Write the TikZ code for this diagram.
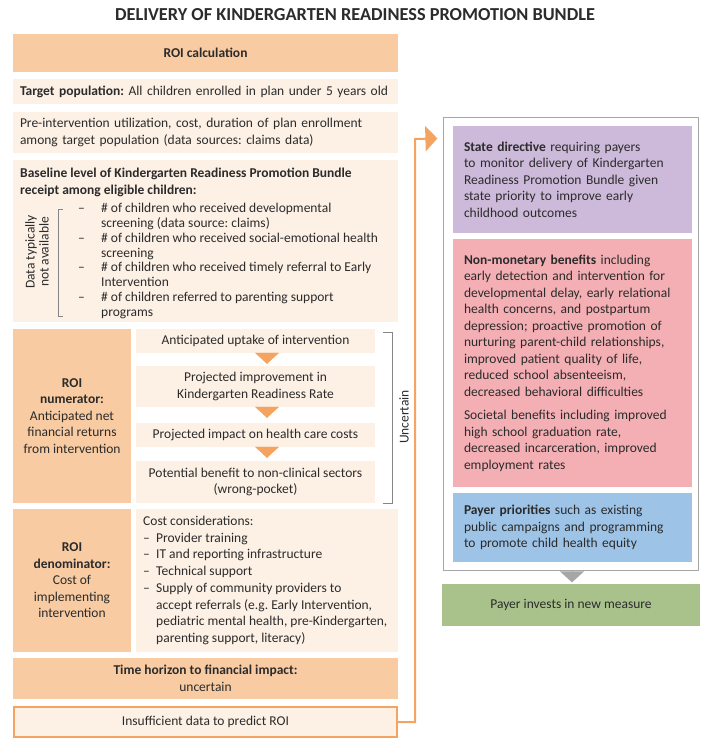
\documentclass[tikz,border=0pt]{standalone}
\usepackage{fontspec}
\setmainfont{Carlito}
\usetikzlibrary{arrows.meta,positioning}
\frenchspacing

\definecolor{peach}{HTML}{F8CBA2}
\definecolor{cream}{HTML}{FDF1E6}
\definecolor{flowor}{HTML}{F4A460}
\definecolor{lilac}{HTML}{CDBADA}
\definecolor{rose}{HTML}{F4AFB4}
\definecolor{sky}{HTML}{9DC3E6}
\definecolor{sage}{HTML}{A9C28C}
\definecolor{frame}{HTML}{A6A6A6}
\definecolor{ink}{HTML}{2B2B2B}

\newcommand{\dsh}{\makebox[13pt][l]{--}}
\newcommand{\cnt}{\hspace*{13pt}}
\newcommand{\bdsh}{\makebox[23pt][l]{--}}
\newcommand{\bcnt}{\hspace*{23pt}}

\begin{document}
\begin{tikzpicture}[x=1pt,y=-1pt,
  every node/.style={text=ink,inner sep=0pt,font=\fontsize{13.5}{16.5}\selectfont},
  hd/.style={font=\fontsize{13.5}{16.5}\selectfont\bfseries},
  dark/.style={fill=peach},
  light/.style={fill=cream},
  lbox/.style={align=left,inner xsep=7pt},
  rbox/.style={align=left,inner xsep=11pt,minimum width=239pt,text width=217pt},
  brk/.style={draw=frame!80!black,line width=0.8pt},
  tri/.style={draw=flowor,line width=0.1pt,-{Triangle[width=24pt,length=11pt]}},
  link/.style={draw=flowor,line width=2pt,-{Triangle[width=25pt,length=12pt]}}
]
\useasboundingbox (0,0) rectangle (710,745);

\node[font=\fontsize{18.3}{21}\selectfont\bfseries] (title) at (355,15) {DELIVERY OF KINDERGARTEN READINESS PROMOTION BUNDLE};

% left column
\node[dark,hd,minimum width=385,minimum height=38] (roi) at (205.5,53) {ROI calculation};
\node[light,lbox,minimum width=385,minimum height=25,text width=371] (target) at (205.5,91.5) {\textbf{Target population:} All children enrolled in plan under 5 years old};
\node[light,lbox,minimum width=385,minimum height=41,text width=371] (preint) at (205.5,132.5) {Pre-intervention utilization, cost, duration of plan enrollment\\among target population (data sources: claims data)};

\node[light,minimum width=385,minimum height=162] (baseline) at (205.5,241) {};
\node[hd,align=left,anchor=west] (basehd) at (20,182.5) {Baseline level of Kindergarten Readiness Promotion Bundle\\receipt among eligible children:};
\node[align=left,anchor=west,font=\fontsize{13.5}{14.9}\selectfont] (items) at (78,261) {\bdsh\# of children who received developmental\\\bcnt screening (data source: claims)\\\bdsh\# of children who received social-emotional health\\\bcnt screening\\\bdsh\# of children who received timely referral to Early\\\bcnt Intervention\\\bdsh\# of children referred to parenting support\\\bcnt programs};
\node[rotate=90,align=center,font=\fontsize{13.5}{14}\selectfont] (nodata) at (37,252) {Data typically\\not available};
\draw[brk] (63,209) -- (58,209) -- (58,316) -- (63,316);

\node[dark,align=center,minimum width=118,minimum height=174] (numlab) at (72,416) {\textbf{ROI}\\\textbf{numerator:}\\Anticipated net\\financial returns\\from intervention};
\node[light,minimum width=239,minimum height=24] (uptake) at (255.5,341) {Anticipated uptake of intervention};
\node[light,align=center,minimum width=239,minimum height=41] (improve) at (255.5,386.5) {Projected improvement in\\Kindergarten Readiness Rate};
\node[light,minimum width=239,minimum height=24] (impact) at (255.5,435) {Projected impact on health care costs};
\node[light,align=center,minimum width=239,minimum height=42] (benefit) at (255.5,482) {Potential benefit to non-clinical sectors\\(wrong-pocket)};

\draw[tri,shorten >=2pt] ([xshift=11.5pt]uptake.south) -- ([xshift=11.5pt]improve.north);
\draw[tri,shorten >=5pt] ([xshift=11.5pt]improve.south) -- ([xshift=11.5pt]impact.north);
\draw[tri,shorten >=3pt] ([xshift=11.5pt]impact.south) -- ([xshift=11.5pt]benefit.north);

\draw[brk] (383,332) -- (392,332) -- (392,503) -- (383,503);
\node[rotate=90] (unc) at (404,417) {Uncertain};

\node[dark,align=center,minimum width=118,minimum height=143] (denlab) at (72,580.5) {\textbf{ROI}\\\textbf{denominator:}\\Cost of\\implementing\\intervention};
\node[light,minimum width=262,minimum height=143] (costs) at (267,580.5) {};
\node[align=left,anchor=west,font=\fontsize{13.5}{16.7}\selectfont] (costtxt) at (143,580.5) {Cost considerations:\\\dsh Provider training\\\dsh IT and reporting infrastructure\\\dsh Technical support\\\dsh Supply of community providers to\\\cnt accept referrals (e.g. Early Intervention,\\\cnt pediatric mental health, pre-Kindergarten,\\\cnt parenting support, literacy)};

\node[dark,align=center,minimum width=385,minimum height=41] (horizon) at (205.5,678.5) {\textbf{Time horizon to financial impact:}\\uncertain};
\node[light,draw=flowor,line width=2pt,minimum width=383,minimum height=30] (insuff) at (205.5,722) {Insufficient data to predict ROI};

% right column
\node[draw=frame,line width=1.2pt,fill=white,minimum width=255,minimum height=453] (outer) at (571,344) {};
\node[fill=lilac,rbox,minimum height=107] (state) at (572.5,179.5) {\textbf{State directive} requiring payers\\to monitor delivery of Kindergarten\\Readiness Promotion Bundle given\\state priority to improve early\\childhood outcomes};
\node[fill=rose,rbox,minimum height=248] (nonmon) at (572.5,363) {\textbf{Non-monetary benefits} including\\early detection and intervention for\\developmental delay, early relational\\health concerns, and postpartum\\depression; proactive promotion of\\nurturing parent-child relationships,\\improved patient quality of life,\\reduced school absenteeism,\\decreased behavioral difficulties\\[7pt]Societal benefits including improved\\high school graduation rate,\\decreased incarceration, improved\\employment rates};
\node[fill=sky,rbox,minimum height=69] (payer) at (572.5,527.5) {\textbf{Payer priorities} such as existing\\public campaigns and programming\\to promote child health equity};
\node[fill=sage,minimum width=258,minimum height=42] (invest) at (571,605) {Payer invests in new measure};

\draw[tri,draw=frame,-{Triangle[width=24pt,length=11pt]},shorten >=1.5pt] ([xshift=1pt]outer.south) -- ([xshift=1pt]invest.north);
\draw[link] (insuff.east) -| (415,139) -- ([shift={(-5.5,21.5)}]outer.north west);
\end{tikzpicture}
\end{document}
